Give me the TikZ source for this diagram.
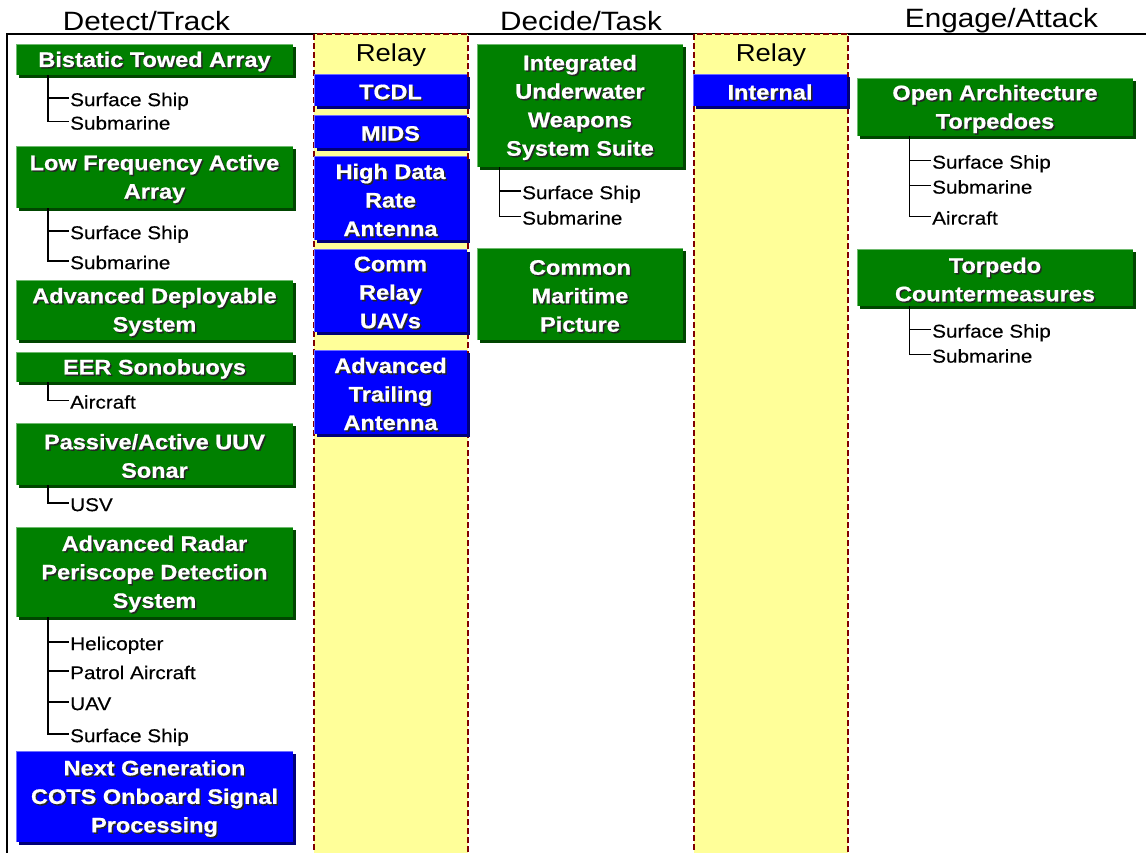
\documentclass[tikz,border=0pt]{standalone}
\usepackage{fontspec}
\setmainfont{Liberation Sans}[FakeStretch=1.12, BoldFeatures={FakeBold=0.7}]
\newfontfamily\itemfont{Liberation Sans}[FakeStretch=1.12, FakeBold=0.25]
\usetikzlibrary{calc}
\definecolor{gfill}{RGB}{0,128,0}
\definecolor{gshad}{RGB}{0,70,0}
\definecolor{glt}{RGB}{110,185,110}
\definecolor{bfill}{RGB}{0,0,255}
\definecolor{bshad}{RGB}{0,0,120}
\definecolor{blt}{RGB}{110,110,255}
\definecolor{relayfill}{RGB}{255,255,153}
\definecolor{relayborder}{RGB}{128,0,0}
\newcommand\mybox[7]{%
  \fill[#2shadow] (#3+3,#4+3) rectangle (#5+3,#6+3);
  \node[#2box, minimum width=#5-#3, minimum height=#6-#4, anchor=north west] (#1) at (#3,#4) {};
  \draw[#2light] (#3+0.6,#6) -- (#3+0.6,#4+0.6) -- (#5,#4+0.6);
  \node[shtxt] at ($(#1.center)+(1.5,3.5)$) {#7};
  \node[boxtxt] at ($(#1.center)+(0,2)$) {#7};
}
\begin{document}
\begin{tikzpicture}[x=1pt,y=-1pt,
  gshadow/.style={fill=gshad},
  bshadow/.style={fill=bshad},
  gbox/.style={fill=gfill, draw=none, inner sep=0pt, outer sep=0pt},
  bbox/.style={fill=bfill, draw=none, inner sep=0pt, outer sep=0pt},
  glight/.style={draw=glt, line width=1.2pt},
  blight/.style={draw=blt, line width=1.2pt},
  boxtxt/.style={text=white, font=\bfseries\fontsize{21}{28.5}\selectfont, align=center, inner sep=0pt},
  shtxt/.style={boxtxt, text=black!85},
  title/.style={font=\fontsize{26.5}{30}\selectfont, inner sep=0pt},
  item/.style={font=\itemfont\fontsize{18.5}{20}\selectfont, anchor=base west, inner ysep=0pt, inner xsep=1.5pt, text height=16.5pt, text depth=0pt},
  tree/.style={line width=1.7pt, black},
  relaycol/.style={fill=relayfill, draw=relayborder, dash pattern=on 6pt off 3pt, line width=1.6pt},
  frame/.style={line width=1.5pt, black}]
\useasboundingbox (0,0) rectangle (1146,852);
\clip (0,0) rectangle (1146,852);
\fill[white] (0,0) rectangle (1146,852);

% titles
\node[title] (t1) at (146.5,21) {Detect/Track};
\node[title] (t2) at (581,21) {Decide/Task};
\node[title] (t3) at (1001.5,21) {Engage/Attack};

% frame
\draw[frame] (7,860) -- (7,34) -- (1150,34);

% relay columns
\draw[relaycol] (314,34) rectangle (468,870);
\draw[relaycol] (694,34) rectangle (848,870);
\node[title, font=\fontsize{24.5}{28}\selectfont] (r1) at (391,55) {Relay};
\node[title, font=\fontsize{24.5}{28}\selectfont] (r2) at (771,55) {Relay};

% column 1
\mybox{b1}{g}{16}{44}{293}{75}{Bistatic Towed Array}
\mybox{b2}{g}{16}{146}{293}{208}{Low Frequency Active\\Array}
\mybox{b3}{g}{16}{280}{293}{340}{Advanced Deployable\\System}
\mybox{b4}{g}{16}{352}{293}{382}{EER Sonobuoys}
\mybox{b5}{g}{16}{423}{293}{485}{Passive/Active UUV\\Sonar}
\mybox{b6}{g}{16}{527}{293}{617}{Advanced Radar\\Periscope Detection\\System}
\mybox{b7}{b}{16}{751}{293}{842}{Next Generation\\COTS Onboard Signal\\Processing}

\node[item] (i11) at (68.5,106.1) {Surface Ship};
\node[item] (i12) at (68.5,129.6) {Submarine};
\node[item] (i21) at (68.5,239.1) {Surface Ship};
\node[item] (i22) at (68.5,269.1) {Submarine};
\node[item] (i41) at (68.5,408.6) {Aircraft};
\node[item] (i51) at (68.5,511.1) {USV};
\node[item] (i61) at (68.5,650.1) {Helicopter};
\node[item] (i62) at (68.5,679.1) {Patrol Aircraft};
\node[item] (i63) at (68.5,710.1) {UAV};
\node[item] (i64) at (68.5,742.1) {Surface Ship};

\draw[tree] ($(b1.south west)+(32,0)$) |- (i11.west);
\draw[tree] ($(b1.south west)+(32,0)$) |- (i12.west);
\draw[tree] ($(b2.south west)+(32,0)$) |- (i21.west);
\draw[tree] ($(b2.south west)+(32,0)$) |- (i22.west);
\draw[tree] ($(b4.south west)+(32,0)$) |- (i41.west);
\draw[tree] ($(b5.south west)+(32,0)$) |- (i51.west);
\draw[tree] ($(b6.south west)+(32,0)$) |- (i61.west);
\draw[tree] ($(b6.south west)+(32,0)$) |- (i62.west);
\draw[tree] ($(b6.south west)+(32,0)$) |- (i63.west);
\draw[tree] ($(b6.south west)+(32,0)$) |- (i64.west);

% column 2 (relay)
\mybox{c1}{b}{314}{74}{467}{106}{TCDL}
\mybox{c2}{b}{314}{115}{467}{148}{MIDS}
\mybox{c3}{b}{314}{156}{467}{240}{High Data\\Rate\\Antenna}
\mybox{c4}{b}{314}{249}{467}{332}{Comm\\Relay\\UAVs}
\mybox{c5}{b}{314}{350}{467}{434}{Advanced\\Trailing\\Antenna}

% column 3
\mybox{d1}{g}{477}{44}{683}{167}{Integrated\\Underwater\\Weapons\\System Suite}
\mybox{d2}{g}{477}{248}{683}{340}{Common\\Maritime\\Picture}
\node[item] (j11) at (520.5,199.1) {Surface Ship};
\node[item] (j12) at (520.5,224.6) {Submarine};
\draw[tree] ($(d1.south west)+(22.5,0)$) |- (j11.west);
\draw[tree] ($(d1.south west)+(22.5,0)$) |- (j12.west);

% column 4 (relay)
\mybox{e1}{b}{693}{74}{847}{106}{Internal}

% column 5
\mybox{f1}{g}{857}{78}{1133}{136}{Open Architecture\\Torpedoes}
\mybox{f2}{g}{857}{249}{1133}{306}{Torpedo\\Countermeasures}
\node[item] (k11) at (930.5,168.6) {Surface Ship};
\node[item] (k12) at (930.5,193.6) {Submarine};
\node[item] (k13) at (930.5,224.6) {Aircraft};
\node[item] (k21) at (930.5,337.6) {Surface Ship};
\node[item] (k22) at (930.5,362.6) {Submarine};
\draw[tree] ($(f1.south west)+(52.5,0)$) |- (k11.west);
\draw[tree] ($(f1.south west)+(52.5,0)$) |- (k12.west);
\draw[tree] ($(f1.south west)+(52.5,0)$) |- (k13.west);
\draw[tree] ($(f2.south west)+(52.5,0)$) |- (k21.west);
\draw[tree] ($(f2.south west)+(52.5,0)$) |- (k22.west);
\end{tikzpicture}
\end{document}
